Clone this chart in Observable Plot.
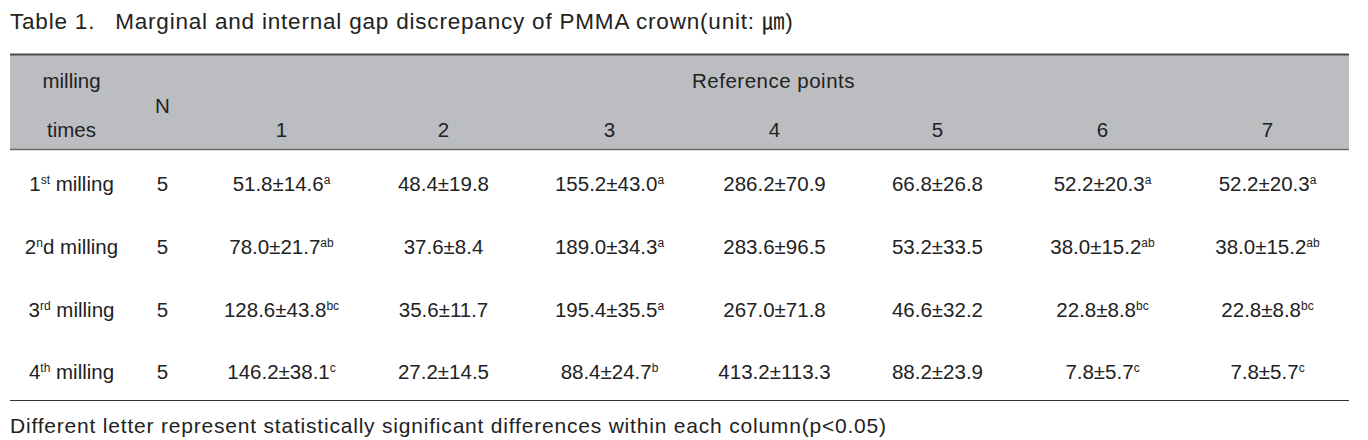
<!DOCTYPE html>
<html>
<head>
<meta charset="utf-8">
<script src="https://cdn.jsdelivr.net/npm/d3@7"></script>
<script src="https://cdn.jsdelivr.net/npm/@observablehq/plot@0.6"></script>
<style>
  html, body { margin: 0; padding: 0; background: #fff; }
  body { width: 1368px; height: 440px; overflow: hidden; font-family: "Liberation Sans", "Noto Sans CJK KR", sans-serif; color: #222; }
  #title { height: 50px; line-height: 44px; font-size: 22.5px; letter-spacing: 0.8px; padding-left: 10px; white-space: pre; }
  #title .num { margin-right: 20px; }
  #note { height: 34px; line-height: 40px; font-size: 21px; letter-spacing: 0.8px; padding-left: 10px; white-space: pre; }
  svg { display: block; }
</style>
</head>
<body>
<div id="title"><span class="num"></span><span class="txt"></span></div>
<div id="chart"></div>
<div id="note"></div>
<script>
// ---- data ----
const titleNumber = "Table 1.";
const titleText = "Marginal and internal gap discrepancy of PMMA crown(unit: \u339B)";
const noteText = "Different letter represent statistically significant differences within each column(p<0.05)";
const headerGroup = "Reference points";
const headerFirst = ["milling", "times"];
const headerN = "N";
const refPoints = ["1", "2", "3", "4", "5", "6", "7"];
const millingLabels = ["1^{st} milling", "2^{n}d milling", "3^{rd} milling", "4^{th} milling"];
const nValues = [5, 5, 5, 5];
const means = [
  [51.8, 48.4, 155.2, 286.2, 66.8, 52.2, 52.2],
  [78.0, 37.6, 189.0, 283.6, 53.2, 38.0, 38.0],
  [128.6, 35.6, 195.4, 267.0, 46.6, 22.8, 22.8],
  [146.2, 27.2, 88.4, 413.2, 88.2, 7.8, 7.8]
];
const sds = [
  [14.6, 19.8, 43.0, 70.9, 26.8, 20.3, 20.3],
  [21.7, 8.4, 34.3, 96.5, 33.5, 15.2, 15.2],
  [43.8, 11.7, 35.5, 71.8, 32.2, 8.8, 8.8],
  [38.1, 14.5, 24.7, 113.3, 23.9, 5.7, 5.7]
];
const letters = [
  ["a", "", "a", "", "", "a", "a"],
  ["ab", "", "a", "", "", "ab", "ab"],
  ["bc", "", "a", "", "", "bc", "bc"],
  ["c", "", "b", "", "", "c", "c"]
];

// ---- layout (positions only) ----
const W = 1368, H = 356;
const colX = {label: 71, n: 162, "1": 281, "2": 443, "3": 609, "4": 774, "5": 937, "6": 1102, "7": 1267};
const groupX = 773;
const rowY = {head1: 31, headN: 56, head2: 80, r0: 134, r1: 197, r2: 260, r3: 322};
const tableX = [10, 1349];
const band = {y1: 4, y2: 99};
const bottomY = 350;
const textColor = "#222";
const fontSize = 20.5;

document.querySelector("#title .num").textContent = titleNumber;
document.querySelector("#title .txt").textContent = titleText;
document.getElementById("note").textContent = noteText;

// ---- cells ----
const cells = [];
cells.push({x: colX.label, y: rowY.head1, t: headerFirst[0]});
cells.push({x: colX.label, y: rowY.head2, t: headerFirst[1]});
cells.push({x: colX.n, y: rowY.headN, t: headerN});
cells.push({x: groupX, y: rowY.head1, t: headerGroup, ls: 0.5});
refPoints.forEach(p => cells.push({x: colX[p], y: rowY.head2, t: p}));
millingLabels.forEach((lab, i) => {
  const y = rowY["r" + i];
  cells.push({x: colX.label, y, t: lab});
  cells.push({x: colX.n, y, t: String(nValues[i])});
  refPoints.forEach((p, j) => {
    const sup = letters[i][j] ? "^{" + letters[i][j] + "}" : "";
    cells.push({x: colX[p], y, t: means[i][j].toFixed(1) + "\u00B1" + sds[i][j].toFixed(1) + sup});
  });
});

const svg = Plot.plot({
  width: W,
  height: H,
  margin: 0,
  x: {type: "linear", domain: [0, W], range: [0, W], axis: null},
  y: {type: "linear", domain: [0, H], range: [0, H], axis: null},
  style: {fontFamily: "'Liberation Sans', 'Noto Sans CJK KR', sans-serif", background: "#fff"},
  marks: [
    Plot.rect([band], {x1: () => tableX[0], x2: () => tableX[1], y1: "y1", y2: "y2", fill: "#bcbdc1"}),
    Plot.ruleY([band.y1], {x1: tableX[0], x2: tableX[1], stroke: "#4a4a4a", strokeWidth: 2}),
    Plot.ruleY([band.y2], {x1: tableX[0], x2: tableX[1], stroke: "#6a6a6a", strokeWidth: 1.5}),
    Plot.ruleY([bottomY], {x1: tableX[0], x2: tableX[1], stroke: "#333", strokeWidth: 1.2}),
    Plot.text(cells.filter(d => d.ls), {x: "x", y: "y", text: "t", fill: textColor, fontSize: fontSize, textAnchor: "middle", className: "spaced"}),
    Plot.text(cells.filter(d => !d.ls), {x: "x", y: "y", text: "t", fill: textColor, fontSize: fontSize, textAnchor: "middle"})
  ]
});
svg.querySelectorAll(".spaced text").forEach(el => el.setAttribute("letter-spacing", "0.5"));

// superscript markup ^{...} -> tspans
svg.querySelectorAll("text").forEach(el => {
  const s = el.textContent;
  if (!s.includes("^{")) return;
  const parts = s.split(/(\^\{[^}]*\})/).filter(d => d !== "");
  el.textContent = "";
  let raised = false;
  parts.forEach(part => {
    const ts = document.createElementNS("http://www.w3.org/2000/svg", "tspan");
    const m = part.match(/^\^\{([^}]*)\}$/);
    if (m) {
      ts.textContent = m[1];
      ts.setAttribute("font-size", "12");
      ts.setAttribute("dy", "-7");
      raised = true;
    } else {
      ts.textContent = part;
      if (raised) { ts.setAttribute("dy", "7"); raised = false; }
    }
    el.appendChild(ts);
  });
});

document.getElementById("chart").appendChild(svg);
</script>
</body>
</html>
